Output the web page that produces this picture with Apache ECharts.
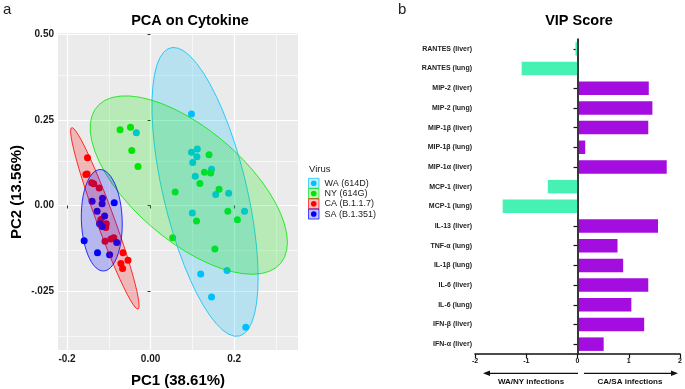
<!DOCTYPE html>
<html>
<head>
<meta charset="utf-8">
<script src="https://cdn.jsdelivr.net/npm/echarts@6/dist/echarts.min.js"></script>
<style>
html, body { margin: 0; padding: 0; background: #fff; }
#chart { width: 685px; height: 389px; }
</style>
</head>
<body>
<div id="chart"></div>
<script>
// ---- panel a: PCA scores (PC1, PC2) ----
const virusNames = ['WA (614D)', 'NY (614G)', 'CA (B.1.1.7)', 'SA (B.1.351)']
const virusColors = ['#00BFFF', '#00E600', '#FF0000', '#0000FF']

const waPoints = [
  [0.098, 0.267], [-0.034, 0.212], [0.098, 0.155], [0.112, 0.165],
  [0.111, 0.142], [0.101, 0.125], [0.146, 0.106], [0.107, 0.085],
  [0.156, 0.032], [0.187, 0.036], [0.100, -0.022], [0.225, -0.017],
  [0.183, -0.190], [0.120, -0.200], [0.146, -0.267], [0.228, -0.355]
]
const nyPoints = [
  [-0.073, 0.221], [-0.048, 0.228], [-0.045, 0.160], [-0.030, 0.114],
  [0.140, 0.148], [0.129, 0.097], [0.144, 0.095], [0.118, 0.064],
  [0.164, 0.047], [0.059, 0.039], [0.185, -0.017], [0.110, -0.045],
  [0.208, -0.042], [0.053, -0.094], [0.154, -0.127]
]
const caPoints = [
  [-0.151, 0.139], [-0.152, 0.092], [-0.155, 0.090], [-0.141, 0.066],
  [-0.136, 0.063], [-0.123, 0.051], [-0.106, -0.053], [-0.107, -0.064],
  [-0.119, -0.041], [-0.109, -0.104], [-0.095, -0.098], [-0.088, -0.094],
  [-0.066, -0.138], [-0.054, -0.160], [-0.071, -0.169], [-0.067, -0.184]
]
const saPoints = [
  [-0.115, 0.021], [-0.140, 0.012], [-0.116, 0.005], [-0.087, 0.008],
  [-0.128, -0.017], [-0.110, -0.031], [-0.122, -0.053], [-0.116, -0.061],
  [-0.159, -0.103], [-0.127, -0.138], [-0.098, -0.144], [-0.081, -0.108]
]
const pcaGroups = [waPoints, nyPoints, caPoints, saPoints]

const xTickValues = [-0.2, 0, 0.2]
const xTickLabels = ['-0.2', '0.00', '0.2']
const yTickValues = [-0.25, 0, 0.25, 0.5]
const yTickLabels = ['-.025', '0.00', '0.25', '0.50']
const xMinorValues = [-0.1, 0.1, 0.3]
const yMinorValues = [-0.375, -0.125, 0.125, 0.375]

// ---- panel b: VIP scores ----
const vipCategories = [
  'RANTES (liver)', 'RANTES (lung)', 'MIP-2 (liver)', 'MIP-2 (lung)',
  'MIP-1β (liver)', 'MIP-1β (lung)', 'MIP-1α (liver)', 'MCP-1 (liver)',
  'MCP-1 (lung)', 'IL-13 (liver)', 'TNF-α (lung)', 'IL-1β (lung)',
  'IL-6 (liver)', 'IL-6 (lung)', 'IFN-β (liver)', 'IFN-α (liver)'
]
const vipValues = [
  -0.04, -1.09, 1.39, 1.46, 1.38, 0.15, 1.74, -0.58,
  -1.46, 1.57, 0.78, 0.89, 1.38, 1.05, 1.30, 0.51
]

// robust t covariance, same steps as MASS::cov.trob (nu = 5)
function covTrob (pts) {
  const n = pts.length
  const nu = 5
  let w = pts.map(() => 1)
  let loc = [0, 0]
  pts.forEach(p => { loc[0] += p[0] / n; loc[1] += p[1] / n })
  let X = []
  for (let iter = 0; iter < 25; iter++) {
    const w0 = w.slice()
    X = pts.map(p => [p[0] - loc[0], p[1] - loc[1]])
    const sw = w.reduce((s, v) => s + v, 0)
    let a = 0, b = 0, c = 0
    X.forEach((d, i) => { a += w[i] * d[0] * d[0]; b += w[i] * d[0] * d[1]; c += w[i] * d[1] * d[1] })
    a /= sw; b /= sw; c /= sw
    const det = a * c - b * b
    const Q = X.map(d => (c * d[0] * d[0] - 2 * b * d[0] * d[1] + a * d[1] * d[1]) / det)
    w = Q.map(q => (nu + 2) / (nu + q))
    const sw2 = w.reduce((s, v) => s + v, 0)
    loc = [0, 0]
    pts.forEach((p, i) => { loc[0] += w[i] * p[0] / sw2; loc[1] += w[i] * p[1] / sw2 })
    if (w.every((v, i) => Math.abs(v - w0[i]) < 0.01)) break
  }
  let sxx = 0, sxy = 0, syy = 0
  X.forEach((d, i) => { sxx += w[i] * d[0] * d[0]; sxy += w[i] * d[0] * d[1]; syy += w[i] * d[1] * d[1] })
  return { center: loc, cov: [sxx / n, sxy / n, syy / n] }
}

// 95% ellipse like ggplot stat_ellipse (type "t")
function ellipseOf (pts) {
  const v = covTrob(pts)
  const [sxx, sxy, syy] = v.cov
  const d = pts.length - 1
  const q = d / 2 * (Math.pow(0.05, -2 / d) - 1)
  const r = Math.sqrt(2 * q)
  const a = Math.sqrt(sxx), b = sxy / a, c = Math.sqrt(syy - b * b)
  const out = []
  for (let i = 0; i <= 51; i++) {
    const t = 2 * Math.PI * i / 51
    const u = Math.cos(t), s = Math.sin(t)
    out.push([v.center[0] + r * u * a, v.center[1] + r * (u * b + s * c)])
  }
  return out
}

function hexA (hex, a) {
  const n = parseInt(hex.slice(1), 16)
  return 'rgba(' + (n >> 16) + ',' + ((n >> 8) & 255) + ',' + (n & 255) + ',' + a + ')'
}

function pickLabel (values, labels) {
  return val => {
    const i = values.findIndex(v => Math.abs(v - val) < 1e-6)
    return i >= 0 ? labels[i] : ''
  }
}

const series = []
pcaGroups.forEach((pts, i) => {
  series.push({
    name: virusNames[i],
    type: 'scatter',
    xAxisIndex: 0,
    yAxisIndex: 0,
    data: pts,
    symbolSize: 7,
    itemStyle: { color: virusColors[i], opacity: 1 },
    z: 3,
    silent: true
  })
})
pcaGroups.forEach((pts, i) => {
  const ell = ellipseOf(pts)
  series.push({
    type: 'custom',
    xAxisIndex: 0,
    yAxisIndex: 0,
    data: [ell[0]],
    clip: true,
    z: 4,
    silent: true,
    renderItem: (params, api) => ({
      type: 'polygon',
      shape: { points: ell.map(p => api.coord(p)) },
      style: { fill: hexA(virusColors[i], 0.22), stroke: virusColors[i], lineWidth: 0.8 }
    })
  })
})
// minor grid lines of the PCA panel
series[0].markLine = {
  silent: true,
  symbol: 'none',
  label: { show: false },
  lineStyle: { color: '#fff', width: 0.6, type: 'solid' },
  z: 1,
  data: xMinorValues.map(v => ({ xAxis: v })).concat(yMinorValues.map(v => ({ yAxis: v })))
}

series.push({
  type: 'bar',
  xAxisIndex: 1,
  yAxisIndex: 1,
  data: vipValues,
  barWidth: 13.5,
  silent: true,
  itemStyle: {
    color: p => p.value < 0 ? '#45F2B4' : '#A30DDF'
  },
  markLine: {
    silent: true,
    symbol: 'none',
    label: { show: false },
    lineStyle: { color: '#333', width: 1.6, type: 'solid' },
    data: [{ xAxis: 0 }]
  }
})

const boldFont = 'bold 8px "Liberation Sans", Arial, sans-serif'
const graphic = [
  { type: 'text', x: 3, y: 10, style: { text: 'a', font: '15px "Liberation Sans", Arial', fill: '#222', verticalAlign: 'middle' } },
  { type: 'text', x: 398, y: 10, style: { text: 'b', font: '15px "Liberation Sans", Arial', fill: '#222', verticalAlign: 'middle' } },
  { type: 'text', x: 190, y: 21, style: { text: 'PCA on Cytokine', font: 'bold 14.5px "Liberation Sans", Arial', fill: '#000', align: 'center', verticalAlign: 'middle' } },
  { type: 'text', x: 178, y: 381, style: { text: 'PC1 (38.61%)', font: 'bold 15px "Liberation Sans", Arial', fill: '#000', align: 'center', verticalAlign: 'middle' } },
  { type: 'text', x: 17, y: 192, rotation: Math.PI / 2, style: { text: 'PC2 (13.56%)', font: 'bold 15px "Liberation Sans", Arial', fill: '#000', align: 'center', verticalAlign: 'middle' } },
  { type: 'text', x: 579, y: 21, style: { text: 'VIP Score', font: 'bold 14.5px "Liberation Sans", Arial', fill: '#000', align: 'center', verticalAlign: 'middle' } },
  { type: 'text', x: 309, y: 169, style: { text: 'Virus', font: '9.5px "Liberation Sans", Arial', fill: '#222', verticalAlign: 'middle' } },
  // direction arrows under the VIP axis
  { type: 'line', shape: { x1: 488, y1: 373.3, x2: 578, y2: 373.3 }, style: { stroke: '#111', lineWidth: 1.2 } },
  { type: 'polygon', shape: { points: [[483, 373.3], [490, 370.5], [490, 376.1]] }, style: { fill: '#111' } },
  { type: 'line', shape: { x1: 584, y1: 373.3, x2: 673, y2: 373.3 }, style: { stroke: '#111', lineWidth: 1.2 } },
  { type: 'polygon', shape: { points: [[678, 373.3], [671, 370.5], [671, 376.1]] }, style: { fill: '#111' } },
  { type: 'text', x: 531, y: 382, style: { text: 'WA/NY infections', font: boldFont, fill: '#111', align: 'center', verticalAlign: 'middle' } },
  { type: 'text', x: 630, y: 382, style: { text: 'CA/SA infections', font: boldFont, fill: '#111', align: 'center', verticalAlign: 'middle' } }
]
virusNames.forEach((name, i) => {
  const cy = 183.3 + i * 10.25
  graphic.push({ type: 'rect', shape: { x: 308.5, y: cy - 5, width: 10.5, height: 10 }, style: { fill: hexA(virusColors[i], 0.25), stroke: virusColors[i], lineWidth: 0.7 } })
  graphic.push({ type: 'circle', shape: { cx: 313.75, cy: cy, r: 2.8 }, style: { fill: virusColors[i] } })
  graphic.push({ type: 'text', x: 324.5, y: cy, style: { text: name, font: '9px "Liberation Sans", Arial', fill: '#222', verticalAlign: 'middle' } })
})

const option = {
  animation: false,
  backgroundColor: '#fff',
  grid: [
    { left: 58, top: 33, width: 240, height: 317, show: true, backgroundColor: '#EBEBEB', borderWidth: 0 },
    { left: 475, top: 39, width: 208, height: 315 }
  ],
  xAxis: [
    {
      gridIndex: 0,
      type: 'value',
      min: -0.2216,
      max: 0.353,
      axisLine: { show: false },
      axisTick: { show: true, customValues: xTickValues, length: 3, lineStyle: { color: '#333' } },
      axisLabel: { customValues: xTickValues, formatter: pickLabel(xTickValues, xTickLabels), margin: 4, color: '#1a1a1a', fontWeight: 'bold', fontSize: 10, fontFamily: 'Liberation Sans' },
      splitLine: { show: true, lineStyle: { color: '#fff', width: 1.2 } }
    },
    {
      gridIndex: 1,
      type: 'value',
      min: -2,
      max: 2,
      interval: 1,
      axisLine: { show: true, lineStyle: { color: '#111', width: 1.5 } },
      axisTick: { show: true, length: 4, lineStyle: { color: '#111', width: 1.2 } },
      axisLabel: { margin: 4, color: '#111', fontWeight: 'bold', fontSize: 7, fontFamily: 'Liberation Sans' },
      splitLine: { show: false }
    }
  ],
  yAxis: [
    {
      gridIndex: 0,
      type: 'value',
      min: -0.4215,
      max: 0.503,
      axisLine: { show: false },
      axisTick: { show: true, customValues: yTickValues, length: 3, lineStyle: { color: '#333' } },
      axisLabel: { customValues: yTickValues, formatter: pickLabel(yTickValues, yTickLabels), margin: 4, color: '#1a1a1a', fontWeight: 'bold', fontSize: 10, fontFamily: 'Liberation Sans' },
      splitLine: { show: true, lineStyle: { color: '#fff', width: 1.2 } }
    },
    {
      gridIndex: 1,
      type: 'category',
      data: vipCategories,
      inverse: true,
      axisLine: { show: true, lineStyle: { color: '#111', width: 1.5 } },
      axisTick: { show: true, alignWithLabel: true, length: 4, lineStyle: { color: '#111', width: 1.2 } },
      axisLabel: { margin: 3, color: '#222', fontWeight: 'bold', fontSize: 7, fontFamily: 'Liberation Sans' }
    }
  ],
  series: series,
  graphic: graphic
}

const myChart = echarts.init(document.getElementById('chart'))
myChart.setOption(option)
</script>
</body>
</html>
